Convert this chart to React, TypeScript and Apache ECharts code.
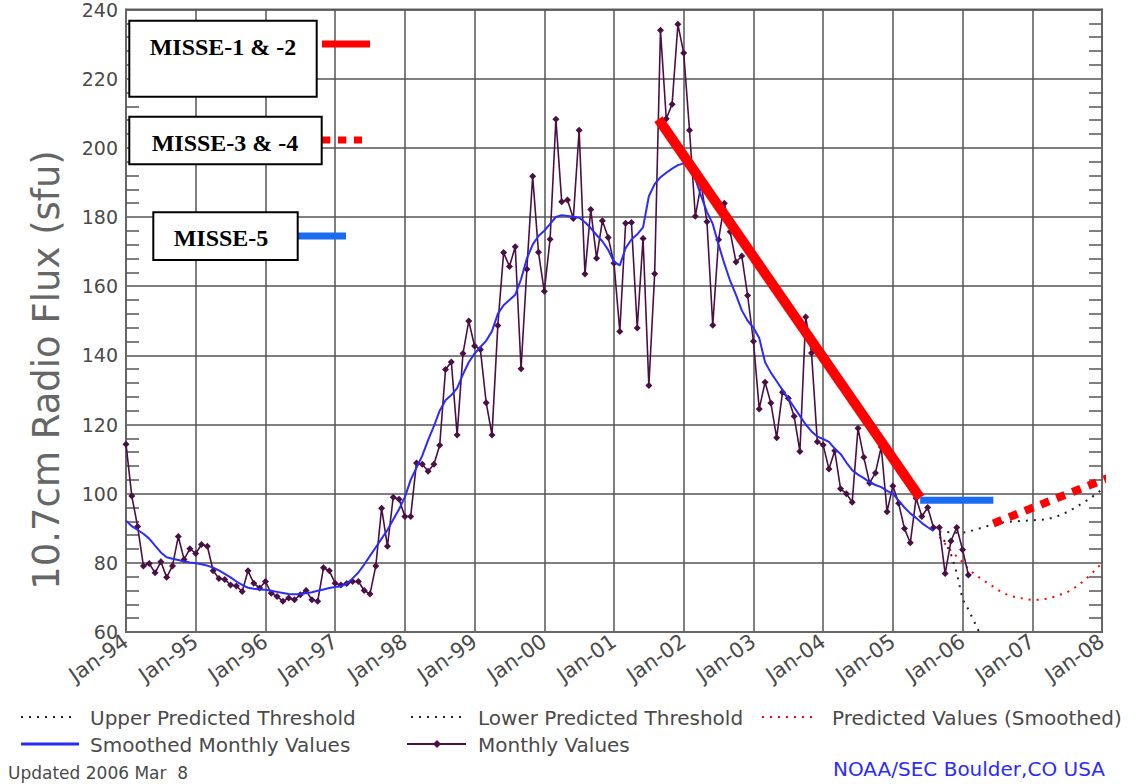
import React, { useEffect, useRef } from 'react';
import * as echarts from 'echarts';

// ---------------- data ----------------
const YEAR_LABELS = ['Jan-94', 'Jan-95', 'Jan-96', 'Jan-97', 'Jan-98', 'Jan-99', 'Jan-00', 'Jan-01', 'Jan-02', 'Jan-03', 'Jan-04', 'Jan-05', 'Jan-06', 'Jan-07', 'Jan-08'];
const Y_TICKS = [60, 80, 100, 120, 140, 160, 180, 200, 220, 240];

// monthly observed 10.7cm flux, Jan 1994 .. Feb 2006 (index 0 = Jan-94)
const MONTHLY = [
  114.3, 99.3, 90.5, 79.1, 79.8, 77.1, 80.3, 75.8, 79.1, 87.6, 81.0, 84.1,
  82.7, 85.3, 84.8, 77.7, 75.5, 75.2, 73.6, 73.3, 71.7, 77.7, 74.1, 72.7,
  74.6, 71.2, 70.3, 68.9, 69.8, 69.3, 70.8, 72.0, 69.3, 68.9, 78.6, 77.7,
  74.1, 73.6, 74.0, 74.6, 74.6, 72.0, 71.0, 79.1, 95.8, 84.8, 99.0, 98.4,
  93.4, 93.4, 108.9, 108.5, 106.5, 108.5, 114.0, 135.9, 138.1, 117.0, 140.5, 149.9,
  142.7, 141.7, 126.3, 117.0, 148.6, 169.7, 165.7, 171.4, 136.1, 164.9, 191.8, 169.8,
  158.5, 173.6, 208.3, 184.4, 184.9, 179.6, 205.1, 163.5, 182.2, 168.1, 178.9, 174.1,
  166.6, 146.9, 178.2, 178.4, 147.9, 173.8, 131.3, 163.6, 234.0, 208.4, 212.6, 235.7,
  227.4, 205.1, 180.2, 189.6, 178.6, 148.7, 173.4, 184.0, 175.7, 167.0, 168.7, 157.3,
  144.1, 124.5, 132.2, 126.2, 116.2, 129.3, 127.6, 122.4, 112.2, 151.1, 140.7, 115.0,
  114.1, 107.1, 112.4, 101.4, 100.0, 97.5, 118.9, 110.5, 103.1, 106.0, 113.5, 94.8,
  102.2, 97.2, 89.9, 85.8, 98.7, 93.4, 96.0, 90.2, 90.2, 76.9, 86.3, 90.2,
  83.8, 76.5,
];

// smoothed monthly values, Jan 1994 .. Aug 2005
const SMOOTHED = [
  92.2, 90.6, 89.5, 88.4, 87.0, 85.0, 83.0, 81.6, 81.2, 80.8, 80.4, 80.1,
  79.9, 79.6, 79.2, 78.6, 77.8, 76.8, 75.8, 74.6, 73.6, 72.8, 72.5, 72.3,
  72.2, 71.9, 71.6, 71.3, 71.0, 70.9, 71.0, 71.2, 71.5, 71.9, 72.3, 72.7,
  73.0, 73.2, 74.0, 75.5, 77.2, 79.5, 82.0, 84.5, 87.0, 89.5, 92.5, 95.5,
  99.0, 104.0, 107.5, 111.0, 115.5, 119.5, 124.0, 127.0, 128.5, 130.5, 134.5, 138.0,
  140.5, 142.4, 144.2, 147.0, 152.0, 154.5, 156.0, 157.5, 162.0, 168.0, 172.0, 174.5,
  176.0, 178.0, 180.0, 180.5, 180.3, 180.1, 179.8, 178.5, 176.8, 174.8, 173.0, 170.5,
  167.0, 166.0, 171.0, 173.5, 175.0, 177.0, 186.0, 189.5, 191.5, 192.8, 194.0, 195.0,
  195.5, 196.0, 191.0, 186.0, 181.5, 178.0, 172.0, 166.5, 161.5, 157.5, 153.0, 150.0,
  148.0, 145.0, 138.0, 135.0, 132.5, 130.0, 127.5, 125.0, 122.5, 120.0, 118.0, 116.5,
  115.8, 115.0, 113.0, 111.5, 109.0, 106.8, 105.5, 104.5, 103.3, 102.5, 101.9, 100.8,
  100.0, 98.0, 96.0, 94.3, 93.0, 91.5, 90.3, 89.2,
];

// predictions start at Sep 2005 (month index 140)
const PRED_START = 140;
const PREDICTED = [
  87.5, 85.5, 83.5, 81.8, 80.2, 78.3, 76.8, 75.6, 74.5, 73.4, 72.3, 71.3,
  70.6, 70.1, 69.8, 69.5, 69.3, 69.3, 69.5, 69.8, 70.3, 70.9, 71.5, 72.5,
  73.6, 75.0, 76.5, 78.2, 80.0,
];
const UPPER = [
  89.0, 89.0, 88.8, 88.7, 88.7, 89.0, 89.5, 90.0, 90.5, 91.0, 91.4, 91.7,
  91.9, 92.0, 92.1, 92.2, 92.3, 92.4, 92.5, 92.8, 93.3, 93.9, 94.7, 95.6,
  96.6, 97.6, 98.7, 99.9, 101.2,
];
const LOWER = [88.5, 86.0, 82.5, 77.0, 69.5, 66.5, 63.0, 59.5, 56.0];

// MISSE mission annotations (month index, flux)
const MISSE_12 = [[91.65, 208.3], [136.7, 98.8]];
const MISSE_5 = [[136.7, 98.1], [149.3, 98.1]];
const MISSE_34 = [[149.3, 91.4], [169.4, 104.8]];

// ---------------- styling ----------------
const AX_FONT = 'DejaVu Sans';
const AX_COLOR = '#4a4a4a';
const GRID_COLOR = '#555';
const PURPLE = '#4a0f45';
const BLUE = '#2b2bff';
const MISSE_BLUE = '#1a6cf2';
const RED = '#ff0000';

export default function App() {
  const ref = useRef<HTMLDivElement>(null);

  useEffect(() => {
    if (!ref.current) return;
    const chart = echarts.init(ref.current, null, { renderer: 'svg' });

    const idx = (arr: number[], start = 0) => arr.map((v, i) => [start + i, v]);

    const legendText = (text: string, x: number, y: number, size = 20, color = AX_COLOR) => ({
      type: 'text',
      x,
      y,
      z: 50,
      style: { text, fill: color, fontSize: size, fontFamily: AX_FONT, align: 'left', verticalAlign: 'middle' },
    });
    const legendLine = (x1: number, x2: number, y: number, stroke: string, lineWidth: number, lineDash?: number[]) => ({
      type: 'line',
      z: 50,
      shape: { x1, y1: y, x2, y2: y },
      style: { stroke, lineWidth, lineDash: lineDash || null },
    });
    const box = (x: number, y: number, w: number, h: number) => ({
      type: 'rect',
      z: 100,
      shape: { x, y, width: w, height: h },
      style: { fill: '#fff', stroke: '#000', lineWidth: 2 },
    });
    const boxText = (text: string, x: number, y: number) => ({
      type: 'text',
      x,
      y,
      z: 101,
      style: {
        text,
        fill: '#000',
        fontSize: 24,
        fontWeight: 'bold',
        fontFamily: '"Liberation Serif", "Times New Roman", serif',
        align: 'center',
        verticalAlign: 'middle',
      },
    });

    const option: any = {
      animation: false,
      backgroundColor: '#fff',
      grid: { left: 126, right: 44, top: 9, bottom: 152, show: true, borderColor: '#666', borderWidth: 2 },
      xAxis: {
        type: 'value',
        min: 0,
        max: 168,
        interval: 12,
        axisLine: { show: true, lineStyle: { color: '#666', width: 2 } },
        axisTick: { show: false },
        splitLine: { show: true, lineStyle: { color: GRID_COLOR, width: 1.5 } },
        axisLabel: {
          rotate: 35,
          margin: 7,
          fontSize: 21,
          fontFamily: AX_FONT,
          color: AX_COLOR,
          formatter: (v: number) => YEAR_LABELS[Math.round(v / 12)] || '',
        },
      },
      yAxis: [
        {
          type: 'value',
          min: Y_TICKS[0],
          max: Y_TICKS[Y_TICKS.length - 1],
          interval: 20,
          axisLine: { show: true, lineStyle: { color: '#666', width: 2 } },
          axisTick: { show: false, inside: true },
          minorTick: { show: true, splitNumber: 5, length: 13, lineStyle: { color: GRID_COLOR, width: 1.5 } },
          splitLine: { show: true, lineStyle: { color: GRID_COLOR, width: 1.5 } },
          axisLabel: { fontSize: 19, fontFamily: AX_FONT, color: AX_COLOR, margin: 8 },
        },
        {
          type: 'value',
          position: 'right',
          min: Y_TICKS[0],
          max: Y_TICKS[Y_TICKS.length - 1],
          interval: 20,
          axisLine: { show: true, lineStyle: { color: '#666', width: 2 } },
          axisTick: { show: false, inside: true },
          minorTick: { show: true, splitNumber: 5, length: 13, lineStyle: { color: GRID_COLOR, width: 1.5 } },
          splitLine: { show: false },
          axisLabel: { show: false },
        },
      ],
      series: [
        {
          name: 'Upper Predicted Threshold',
          type: 'line',
          data: idx(UPPER, PRED_START),
          showSymbol: false,
          lineStyle: { color: '#222', width: 2, type: [2, 6] },
          z: 3,
        },
        {
          name: 'Lower Predicted Threshold',
          type: 'line',
          data: idx(LOWER, PRED_START),
          showSymbol: false,
          lineStyle: { color: '#222', width: 2, type: [2, 6] },
          z: 3,
        },
        {
          name: 'Predicted Values (Smoothed)',
          type: 'line',
          data: idx(PREDICTED, PRED_START),
          showSymbol: false,
          lineStyle: { color: RED, width: 2, type: [2, 6] },
          z: 3,
        },
        {
          name: 'Monthly Values',
          type: 'line',
          data: idx(MONTHLY),
          symbol: 'diamond',
          symbolSize: 7,
          showSymbol: true,
          itemStyle: { color: PURPLE },
          lineStyle: { color: PURPLE, width: 1.6 },
          z: 4,
        },
        {
          name: 'Smoothed Monthly Values',
          type: 'line',
          data: idx(SMOOTHED),
          showSymbol: false,
          lineStyle: { color: BLUE, width: 2 },
          z: 5,
        },
        {
          name: 'MISSE-1 & -2',
          type: 'line',
          data: MISSE_12,
          showSymbol: false,
          lineStyle: { color: RED, width: 10 },
          z: 8,
        },
        {
          name: 'MISSE-5',
          type: 'line',
          data: MISSE_5,
          showSymbol: false,
          lineStyle: { color: MISSE_BLUE, width: 7 },
          z: 8,
        },
        {
          name: 'MISSE-3 & -4',
          type: 'line',
          data: MISSE_34,
          showSymbol: false,
          clip: false,
          lineStyle: { color: RED, width: 8, type: [9, 8] },
          z: 8,
        },
      ],
      graphic: [
        // y-axis title
        {
          type: 'text',
          x: 46,
          y: 370,
          rotation: Math.PI / 2,
          z: 50,
          style: {
            text: '10.7cm Radio Flux (sfu)',
            fill: '#666',
            fontSize: 37,
            fontFamily: AX_FONT,
            align: 'center',
            verticalAlign: 'middle',
          },
        },
        // MISSE key boxes
        box(129.3, 20.7, 187.4, 76),
        boxText('MISSE-1 & -2', 223, 47),
        legendLine(322, 370, 44, RED, 7),
        box(129.3, 116.7, 192.4, 47.6),
        boxText('MISSE-3 & -4', 225, 142.5),
        legendLine(322, 362, 140, RED, 7, [8.3, 7.7]),
        box(153.3, 212.3, 144.4, 47.7),
        boxText('MISSE-5', 221, 237.5),
        legendLine(298, 346, 236, MISSE_BLUE, 7),
        // bottom legend
        legendLine(21, 71, 717, '#222', 2, [2, 6]),
        legendText('Upper Predicted Threshold', 90, 718),
        legendLine(411, 461, 717, '#222', 2, [2, 6]),
        legendText('Lower Predicted Threshold', 478, 718),
        legendLine(762, 814, 717, RED, 2, [2, 6]),
        legendText('Predicted Values (Smoothed)', 832, 718),
        legendLine(21, 79, 744, BLUE, 3),
        legendText('Smoothed Monthly Values', 90, 745),
        legendLine(407, 466, 744, PURPLE, 2),
        {
          type: 'polygon',
          z: 51,
          shape: { points: [[437, 740], [441, 744], [437, 748], [433, 744]] },
          style: { fill: PURPLE },
        },
        legendText('Monthly Values', 478, 745),
        legendText('Updated 2006 Mar  8', 8, 773, 17),
        legendText('NOAA/SEC Boulder,CO USA', 833, 769, 20, BLUE),
      ],
    };

    chart.setOption(option);
    return () => chart.dispose();
  }, []);

  return (
    <div
      ref={ref}
      style={{ position: 'fixed', left: 0, top: 0, width: 1146, height: 784, background: '#fff' }}
    />
  );
}
